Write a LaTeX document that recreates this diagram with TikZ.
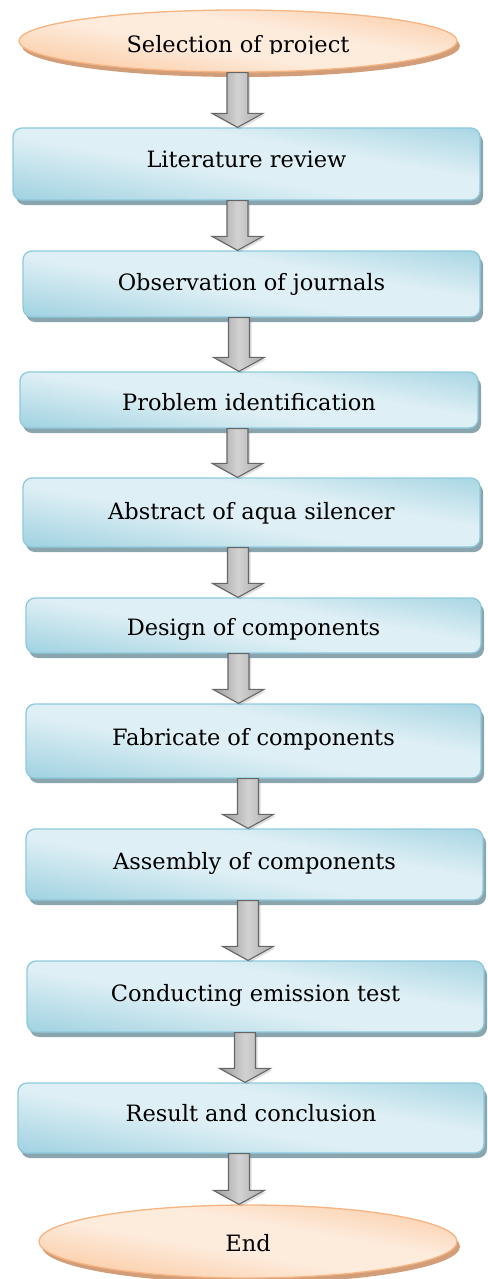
\documentclass[tikz,border=0pt]{standalone}
\usepackage{fontspec}
\setmainfont{DejaVu Serif}
\usetikzlibrary{shapes.geometric,shadows,calc}

\definecolor{boxdark}{HTML}{98CEDE}
\definecolor{boxlight}{HTML}{DEEFF5}
\definecolor{boxedge}{HTML}{8ECADB}
\definecolor{boxshadow}{HTML}{8AA5AE}
\definecolor{ovdark}{HTML}{FAC090}
\definecolor{ovlight}{HTML}{FDEBDC}
\definecolor{ovedge}{HTML}{F7B481}
\definecolor{ovshadow}{HTML}{D29E79}
\definecolor{arrlight}{HTML}{D2D2D2}
\definecolor{arrdark}{HTML}{9A9A9A}
\definecolor{arredge}{HTML}{666666}

\pgfdeclareverticalshading{boxshade}{100bp}{color(0bp)=(boxdark); color(18bp)=(boxdark); color(45bp)=(boxlight); color(60bp)=(boxlight); color(85bp)=(boxdark); color(100bp)=(boxdark)}
\pgfdeclareverticalshading{ovshade}{100bp}{color(0bp)=(ovdark); color(18bp)=(ovdark); color(45bp)=(ovlight); color(58bp)=(ovlight); color(85bp)=(ovdark); color(100bp)=(ovdark)}

\newcommand\blockarr[3]{%
  \draw[blockarrow] let \p1=(#1.south), \p2=(#2.north) in
    (#3pt-10.5pt,\y1) -- (#3pt+10.5pt,\y1) -- (#3pt+10.5pt,\y2+14pt)
    -- (#3pt+25.5pt,\y2+14pt) -- (#3pt,\y2) -- (#3pt-25.5pt,\y2+14pt)
    -- (#3pt-10.5pt,\y2+14pt) -- cycle;}

\tikzset{
  flowbox/.style={rectangle, draw=boxedge, line width=1.3pt, rounded corners=9pt,
    shading=boxshade, shading angle=-10, inner sep=0pt,
    font=\fontsize{22.5}{26}\selectfont, text depth=0pt,
    drop shadow={shadow xshift=3pt, shadow yshift=-5pt, fill=boxshadow, opacity=1}},
  terminal/.style={ellipse, draw=ovedge, line width=1.3pt,
    shading=ovshade, shading angle=-10, inner sep=0pt,
    drop shadow={shadow xshift=3pt, shadow yshift=-5pt, fill=ovshadow, opacity=1}},
  termtext/.style={inner sep=0pt, font=\fontsize{22.5}{26}\selectfont, text depth=0pt},
  blockarrow/.style={draw=arredge, line width=1.1pt, line join=miter,
    left color=arrdark, right color=arrdark!85!white, middle color=arrlight,
    drop shadow={shadow xshift=2pt, shadow yshift=-2pt, opacity=0.25}}
}

\begin{document}
\begin{tikzpicture}[x=1pt,y=-1pt]
\useasboundingbox (0,0) rectangle (487,1279);

\node[terminal, minimum width=438pt, minimum height=62pt] (start) at (238,41) {};
\begin{scope}
  \clip (0,0) rectangle (487,53.5);
  \node[termtext, text height=24pt] (starttext) at (238,41) {Selection of project};
\end{scope}

\node[flowbox, minimum width=467pt, minimum height=72pt, text height=7.4pt] (b1) at (246.5,164) {Literature review};
\node[flowbox, minimum width=457pt, minimum height=66pt, text height=12.6pt] (b2) at (251.5,284) {Observation of journals};
\node[flowbox, minimum width=458pt, minimum height=56pt, text height=20pt] (b3) at (249,400) {Problem identification};
\node[flowbox, minimum width=457pt, minimum height=69pt, text height=13pt] (b4) at (251.5,512.5) {Abstract of aqua silencer};
\node[flowbox, minimum width=455pt, minimum height=55pt, text height=19.6pt] (b5) at (253.5,625.5) {Design of components};
\node[flowbox, minimum width=455pt, minimum height=74pt, text height=8pt] (b6) at (253.5,741) {Fabricate of components};
\node[flowbox, minimum width=457pt, minimum height=71pt, text height=9pt] (b7) at (254.5,864.5) {Assembly of components};
\node[flowbox, minimum width=457pt, minimum height=71pt, text height=10.4pt] (b8) at (255.5,996.5) {Conducting emission test};
\node[flowbox, minimum width=466pt, minimum height=70pt, text height=7.4pt] (b9) at (251,1118) {Result and conclusion};

\node[terminal, minimum width=418pt, minimum height=73pt, font=\fontsize{22.5}{26}\selectfont, text depth=0pt, text height=20.4pt] (end) at (248,1241.5) {End};

\blockarr{start}{b1}{237.5}
\blockarr{b1}{b2}{237.5}
\blockarr{b2}{b3}{239}
\blockarr{b3}{b4}{237.5}
\blockarr{b4}{b5}{238}
\blockarr{b5}{b6}{238.5}
\blockarr{b6}{b7}{248}
\blockarr{b7}{b8}{248}
\blockarr{b8}{b9}{245}
\blockarr{b9}{end}{239}
\end{tikzpicture}
\end{document}
